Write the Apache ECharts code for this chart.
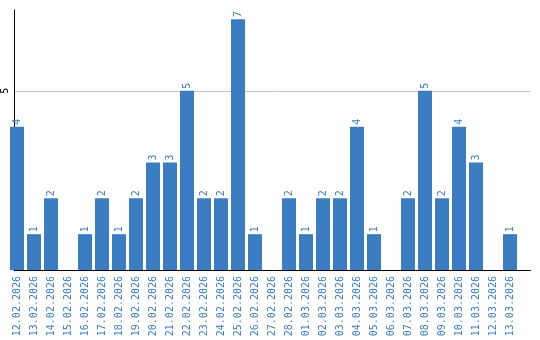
<!DOCTYPE html>
<html><head><meta charset="utf-8">
<script src="https://cdn.jsdelivr.net/npm/echarts@6/dist/echarts.min.js"></script>
<style>html,body{margin:0;padding:0;background:#fff}#c{width:540px;height:340px}</style>
</head><body><div id="c"></div>
<script>
const categories = ['12.02.2026','13.02.2026','14.02.2026','15.02.2026','16.02.2026','17.02.2026','18.02.2026','19.02.2026','20.02.2026','21.02.2026','22.02.2026','23.02.2026','24.02.2026','25.02.2026','26.02.2026','27.02.2026','28.02.2026','01.03.2026','02.03.2026','03.03.2026','04.03.2026','05.03.2026','06.03.2026','07.03.2026','08.03.2026','09.03.2026','10.03.2026','11.03.2026','12.03.2026','13.03.2026'];
const values = [4,1,2,0,1,2,1,2,3,3,5,2,2,7,1,0,2,1,2,2,4,1,0,2,5,2,4,3,0,1];
const yTicks = [5];

const blue = '#3b7dc3';
const font = 'DejaVu Sans Mono';
const chart = echarts.init(document.getElementById('c'), null, {renderer:'canvas'});
chart.setOption({
  animation:false,
  grid:[
    {left:8.5, top:10, width:510, height:260},
    {left:10, top:10, width:520.5, height:260}
  ],
  xAxis:[
    {type:'category', gridIndex:0, data:categories,
     axisLine:{show:false}, axisTick:{show:false},
     axisLabel:{rotate:90, interval:0, margin:6, color:blue, fontFamily:font, fontSize:10}},
    {type:'value', gridIndex:1, min:0, max:1, axisLine:{show:true, lineStyle:{color:'#000', width:1}},
     axisTick:{show:false}, axisLabel:{show:false}, splitLine:{show:false}}
  ],
  yAxis:[
    {type:'value', gridIndex:0, min:0, max:7.256, show:false, splitLine:{show:false}},
    {type:'value', gridIndex:1, min:0, max:7.256, interval:5,
     axisLine:{show:true, lineStyle:{color:'#000', width:1}},
     axisTick:{show:false},
     axisLabel:{rotate:90, margin:4, color:'#000', fontFamily:font, fontSize:10,
       showMaxLabel:false, formatter:v=> yTicks.includes(v)? String(v) : ''},
     splitLine:{show:true, showMaxLine:false, showMinLine:false, lineStyle:{color:'#c8c8c8', width:1}}}
  ],
  series:[{
    type:'bar', xAxisIndex:0, yAxisIndex:0,
    data: values, barWidth:14,
    itemStyle:{color:blue},
    label:{show:true, position:'top', rotate:90, align:'left', verticalAlign:'middle', distance:2,
      color:blue, fontFamily:font, fontSize:10,
      formatter:p=> p.value ? String(p.value) : ''}
  }]
});
</script></body></html>
